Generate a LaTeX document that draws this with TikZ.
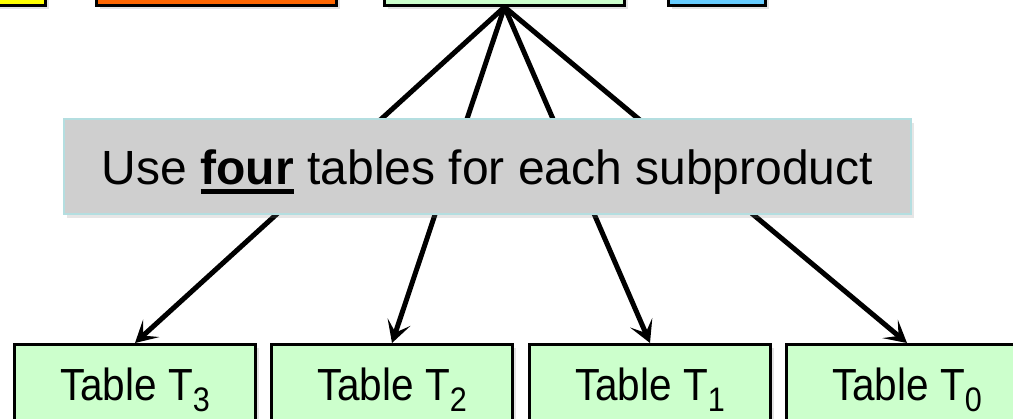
\documentclass[tikz,border=0pt]{standalone}
\usepackage{fontspec}
\setmainfont{Liberation Sans}
\newfontfamily\tabfont[FakeStretch=0.9]{Liberation Sans}
\usepackage{xcolor}
\usepackage{tikz}
\usetikzlibrary{arrows.meta,shadows}
\definecolor{verde}{HTML}{CCFFCC}
\definecolor{arancio}{HTML}{FF6600}
\definecolor{giallo}{HTML}{FFFF00}
\definecolor{azzurro}{HTML}{66CCFF}
\definecolor{grigio}{HTML}{CFCFCF}
\definecolor{bordo}{HTML}{B4DEE0}

\newcommand{\sottolinea}[1]{\vtop{\hbox{\textbf{#1}}\kern4pt\hrule height 5pt}}
\newcommand{\pedice}[1]{\raisebox{-11pt}{\fontsize{34}{36}\selectfont #1}}

\tikzset{
  cella/.style={draw=black, line width=3pt,
    drop shadow={shadow xshift=3pt, shadow yshift=-4pt, opacity=0.22}},
  freccia/.style={line width=5pt, -{Stealth[length=22pt,width=24pt,inset=11pt]}},
}

\begin{document}
\begin{tikzpicture}[x=1pt,y=-1pt]
        \useasboundingbox (0,0) rectangle (1013,419);
        % riquadri in alto
        \node[cella, fill=giallo,  anchor=south east, minimum width=120, minimum height=60] (gia) at (47,7)  {};
        \node[cella, fill=arancio, anchor=south west, minimum width=240, minimum height=60] (ara) at (95,7)  {};
        \node[cella, fill=verde,   anchor=south west, minimum width=240, minimum height=60] (ver) at (383,7) {};
        \node[cella, fill=azzurro, anchor=south west, minimum width=97,  minimum height=60] (azz) at (667,7) {};
        % tabelle
        \foreach \i/\x in {3/135, 2/392, 1/650, 0/907}
            \node[cella, fill=verde, anchor=north, minimum width=241, text height=31pt, text depth=0pt,
                  inner ysep=25pt, font=\tabfont\fontsize{45}{48}\selectfont] (t\i) at (\x,343) {Table T\pedice{\i}};
        % frecce
        \foreach \i in {3,2,1,0}
            \draw[freccia] (ver.south) -- (t\i.north);
        % nota
        \node[fill=grigio, draw=bordo, line width=2pt, minimum width=847, minimum height=95,
              text height=40pt, text depth=3pt, font=\fontsize{48}{52}\selectfont,
              drop shadow={shadow xshift=3pt, shadow yshift=-4pt, opacity=0.2}] (nota) at (487.5,166.5)
              {Use \sottolinea{four} tables for each subproduct};
    \end{tikzpicture}
\end{document}
